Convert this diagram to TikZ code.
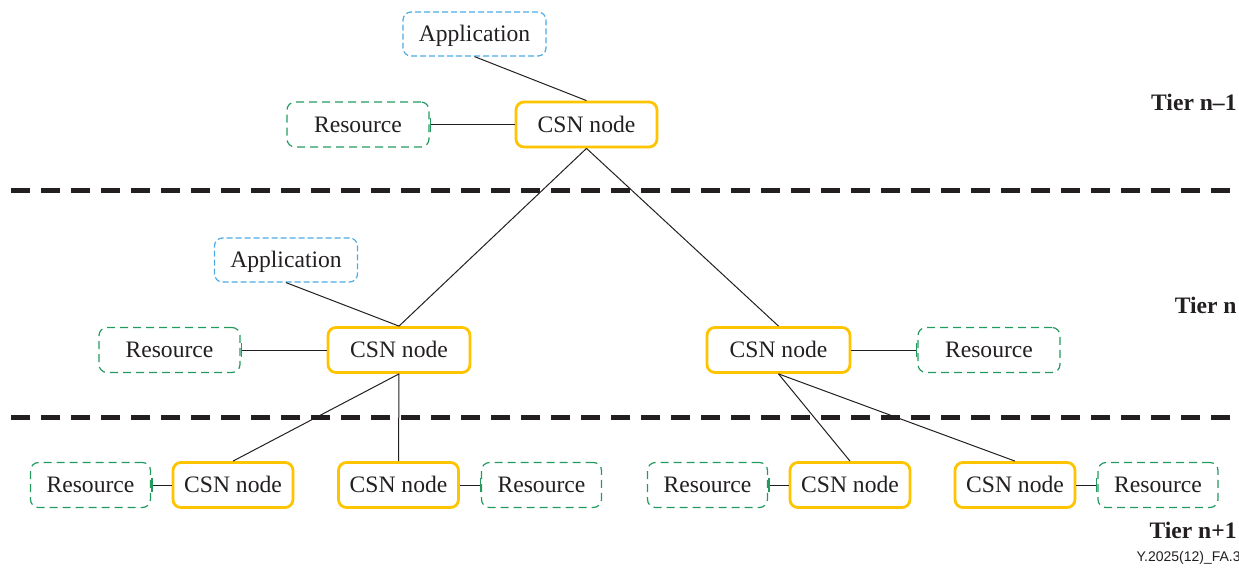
\documentclass[tikz,border=0pt]{standalone}
\usepackage{fontspec}
\setmainfont{Liberation Serif}
\newfontfamily\labelsans{Liberation Sans}
\usetikzlibrary{arrows.meta}
\definecolor{csngold}{RGB}{255,196,0}
\definecolor{resgreen}{RGB}{35,155,95}
\definecolor{appblue}{RGB}{75,172,230}
\definecolor{inkblack}{RGB}{35,31,32}
\begin{document}
\begin{tikzpicture}[x=0.5pt,y=-0.5pt,
  every node/.style={font=\fontsize{11.8}{14}\selectfont, inner sep=0pt, text=inkblack},
  boxtext/.style={text height=10pt, text depth=2.2pt},
  csn/.style={boxtext, draw=csngold, line width=1.4pt, rounded corners=4pt, minimum height=22.5pt},
  res/.style={boxtext, draw=resgreen, line width=0.6pt, dash pattern=on 4pt off 2.5pt, rounded corners=4pt, minimum height=22.5pt},
  app/.style={boxtext, draw=appblue, line width=0.6pt, dash pattern=on 3pt off 1.5pt, rounded corners=4pt, minimum height=22pt, minimum width=71.5pt},
  link/.style={draw=inkblack, line width=0.5pt},
  reslink/.style={link, {Bar[width=7pt,line width=0.7pt,color=resgreen]}-},
  tierline/.style={draw=inkblack, line width=2.5pt, dash pattern=on 9.5pt off 5.5pt},
  tier/.style={font=\fontsize{11.8}{14}\selectfont\bfseries, anchor=east},
  wide/.style={minimum width=71pt},
  narrow/.style={minimum width=60pt}
]
\useasboundingbox (0,0) rectangle (1239,568);

% tier separators
\coordinate (l1a) at (11,190);
\coordinate (l1b) at (1239,190);
\coordinate (l2a) at (11,417);
\coordinate (l2b) at (1239,417);
\draw[tierline] (l1a) -- (l1b);
\draw[tierline] (l2a) -- (l2b);

% tier n-1
\node[app] (appT) at (474.5,34) {Application};
\node[res, wide] (resT) at (358,124.5) {Resource};
\node[csn, minimum width=70.5pt] (csnT) at (586.5,124.5) {CSN node};

% tier n
\node[app] (appM) at (286,260) {Application};
\node[res, minimum width=70.5pt] (resML) at (169.5,350) {Resource};
\node[csn, wide] (csnML) at (399,350) {CSN node};
\node[csn, minimum width=71.5pt] (csnMR) at (778.5,350) {CSN node};
\node[res, wide] (resMR) at (989,350) {Resource};

% tier n+1
\node[res, narrow] (resB1) at (90.5,485) {Resource};
\node[csn, narrow] (csnB2) at (233,485) {CSN node};
\node[csn, narrow] (csnB3) at (398.5,485) {CSN node};
\node[res, narrow] (resB4) at (541.5,485) {Resource};
\node[res, narrow] (resB5) at (707.5,485) {Resource};
\node[csn, narrow] (csnB6) at (850,485) {CSN node};
\node[csn, narrow] (csnB7) at (1015,485) {CSN node};
\node[res, narrow] (resB8) at (1158,485) {Resource};

% labels
\node[tier] (tierA) at (1237,102) {Tier n–1};
\node[tier] (tierB) at (1237,305) {Tier n};
\node[tier] (tierC) at (1237,530) {Tier n+1};
\node[anchor=east, font=\labelsans\fontsize{7}{8}\selectfont] (figid) at (1241,558) {Y.2025(12)\_FA.3};

% connectors
\draw[link] (appT.south) -- (csnT.north);
\draw[reslink] (resT.east) -- (csnT.west);
\draw[link] (csnT.south) -- (csnML.north);
\draw[link] (csnT.south) -- (csnMR.north);
\draw[link] (appM.south) -- (csnML.north);
\draw[reslink] (resML.east) -- (csnML.west);
\draw[reslink] (resMR.west) -- (csnMR.east);
\draw[link] (csnML.south) -- (csnB2.north);
\draw[link] (csnML.south) -- (csnB3.north);
\draw[link] (csnMR.south) -- (csnB6.north);
\draw[link] (csnMR.south) -- (csnB7.north);
\draw[reslink] (resB1.east) -- (csnB2.west);
\draw[reslink] (resB4.west) -- (csnB3.east);
\draw[reslink] (resB5.east) -- (csnB6.west);
\draw[reslink] (resB8.west) -- (csnB7.east);
\end{tikzpicture}
\end{document}
